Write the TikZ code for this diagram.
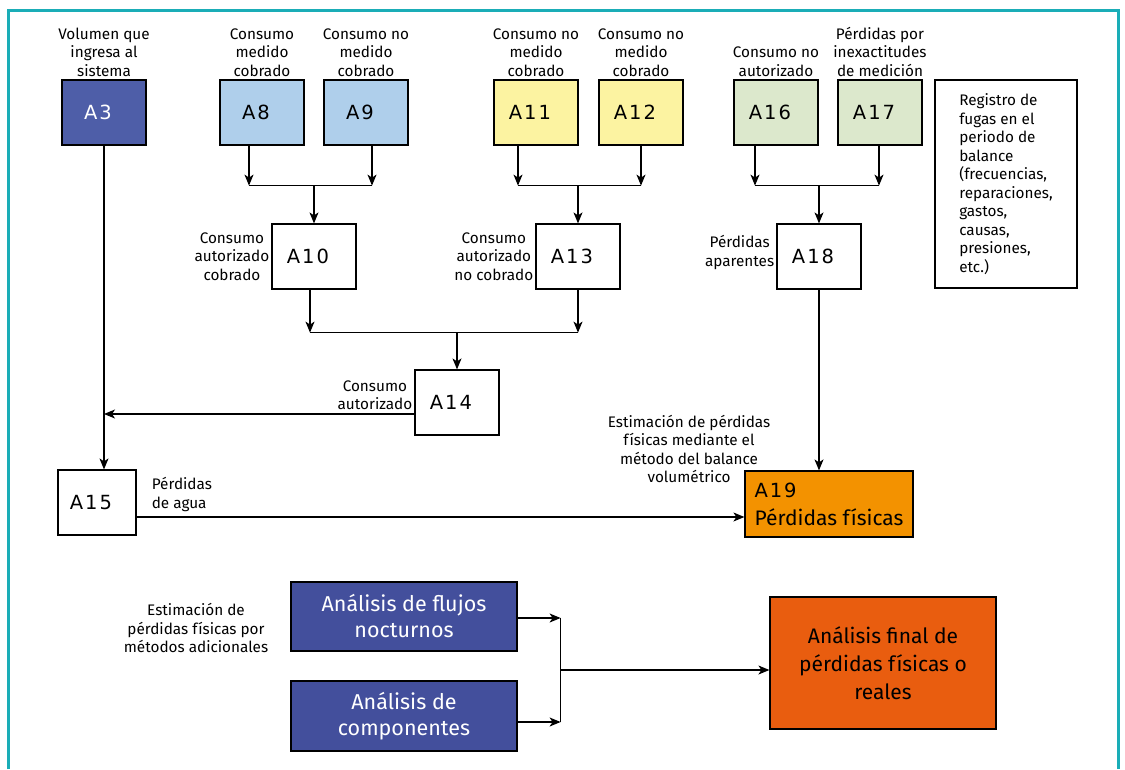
\documentclass[tikz,border=0pt]{standalone}
\usepackage{fontspec}
\setmainfont{Fira Sans}
\newfontfamily\clave[LetterSpace=10]{DejaVu Sans}
\usetikzlibrary{positioning,calc,arrows.meta}
\definecolor{marco}{HTML}{1AADB7}
\definecolor{azulosc}{HTML}{4E5EA8}
\definecolor{azulcla}{HTML}{AFCFEB}
\definecolor{amarillo}{HTML}{FCF3A1}
\definecolor{verde}{HTML}{DCE8CC}
\definecolor{naranja}{HTML}{F39200}
\definecolor{azulmet}{HTML}{434F9C}
\definecolor{naranjaf}{HTML}{E95D0F}

\begin{document}
\begin{tikzpicture}[x=1pt,y=-1pt,
    caja/.style={draw, line width=1.2pt, minimum width=84pt, minimum height=65pt, inner sep=0pt, font=\clave\fontsize{19.5}{24}\selectfont, execute at end node=\hspace*{12pt}},
    etiq/.style={align=center, inner sep=1pt, font=\fontsize{15.3}{18.5}\selectfont},
    metodo/.style={draw, line width=1.2pt, minimum width=226pt, minimum height=69pt, align=center, font=\fontsize{21.5}{26}\selectfont},
    flecha/.style={line width=1.2pt, -{Stealth[length=11pt,width=9pt,inset=3pt]}},
    linea/.style={line width=1.2pt}]
    \useasboundingbox (0,0) rectangle (1125,769);
    \draw[marco, line width=3pt] (8,769) -- (8,10) -- (1118,10) -- (1118,769);

    \node[caja, fill=azulosc, text=white, execute at end node={}] (a3) at (104,112.5) {A3};
    \node[caja, fill=azulcla] (a8) at (262,112.5) {A8};
    \node[caja, fill=azulcla] (a9) at (366,112.5) {A9};
    \node[caja, fill=amarillo] (a11) at (536,112.5) {A11};
    \node[caja, fill=amarillo] (a12) at (641,112.5) {A12};
    \node[caja, fill=verde] (a16) at (776,112.5) {A16};
    \node[caja, fill=verde] (a17) at (880,112.5) {A17};
    \node[caja] (a10) at (314,256.5) {A10};
    \node[caja] (a13) at (578,256.5) {A13};
    \node[caja] (a18) at (819,256.5) {A18};
    \node[caja] (a14) at (457,402.5) {A14};
    \node[caja, minimum width=78pt] (a15) at (97,502.5) {A15};
    \node[draw, line width=1.2pt, fill=naranja, minimum width=168pt, minimum height=66pt, inner sep=0pt, align=left, font=\fontsize{21}{28}\selectfont] (a19) at (829,504) {{\clave\fontsize{19.5}{28}\selectfont A19}\\Pérdidas físicas};
    \node[draw, line width=1.2pt, minimum width=142pt, minimum height=208pt, inner xsep=19pt, align=left, font=\fontsize{15.3}{18.5}\selectfont] (reg) at (1006,184) {Registro de\\fugas en el\\periodo de\\balance\\(frecuencias,\\reparaciones,\\gastos,\\causas,\\presiones,\\etc.)};

    \node[etiq, above=2pt of a3] (t3) {Volumen que\\ingresa al\\sistema};
    \node[etiq, above=2pt of a8] (t8) {Consumo\\medido\\cobrado};
    \node[etiq, above=2pt of a9] (t9) {Consumo no\\medido\\cobrado};
    \node[etiq, above=2pt of a11] (t11) {Consumo no\\medido\\cobrado};
    \node[etiq, above=2pt of a12] (t12) {Consumo no\\medido\\cobrado};
    \node[etiq, above=2pt of a16] (t16) {Consumo no\\autorizado};
    \node[etiq, above=2pt of a17] (t17) {Pérdidas por\\inexactitudes\\de medición};
    \node[etiq, left=1pt of a10] (t10) {Consumo\\autorizado\\cobrado};
    \node[etiq, left=1pt of a13] (t13) {Consumo\\autorizado\\no cobrado};
    \node[etiq, left=1pt of a18, yshift=4pt] (t18) {Pérdidas\\aparentes};

    \coordinate (j8) at ($(a8.south)+(-13,40)$);
    \coordinate (j9) at ($(a9.south)+(6,40)$);
    \coordinate (j11) at ($(a11.south)+(-18,40)$);
    \coordinate (j12) at ($(a12.south)+(0,40)$);
    \coordinate (j16) at ($(a16.south)+(-21,40)$);
    \coordinate (j17) at ($(a17.south)+(-1,40)$);
    \draw[flecha] ([xshift=-13pt]a8.south) -- (j8);
    \draw[flecha] ([xshift=6pt]a9.south) -- (j9);
    \draw[flecha] ([xshift=-18pt]a11.south) -- (j11);
    \draw[flecha] (a12.south) -- (j12);
    \draw[flecha] ([xshift=-21pt]a16.south) -- (j16);
    \draw[flecha] ([xshift=-1pt]a17.south) -- (j17);
    \draw[linea] (j8) -- (j9);
    \draw[linea] (j11) -- (j12);
    \draw[linea] (j16) -- (j17);
    \draw[flecha] (a10.north |- j8) -- (a10.north);
    \draw[flecha] (a13.north |- j11) -- (a13.north);
    \draw[flecha] (a18.north |- j16) -- (a18.north);

    \coordinate (j10) at ($(a10.south)+(-4,43)$);
    \coordinate (j13) at ($(a13.south)+(0,43)$);
    \draw[flecha] ([xshift=-4pt]a10.south) -- (j10);
    \draw[flecha] (a13.south) -- (j13);
    \draw[linea] (j10) -- (j13);
    \draw[flecha] (a14.north |- j10) -- (a14.north);

    \coordinate (s14) at ($(a14.west)+(0,11.5)$);
    \node[etiq, anchor=south east] (t14) at ($(s14)+(-1,-3)$) {Consumo\\autorizado};
    \draw[flecha] (s14) -- (a3.south |- s14);
    \draw[flecha] (a3.south) -- (a3.south |- a15.north);

    \coordinate (s15) at ($(a15.east)+(0,14.5)$);
    \node[etiq, align=left, anchor=north west] (t15) at ($(a15.north east)+(14,7)$) {Pérdidas\\de agua};
    \draw[flecha] (s15) -- (s15 -| a19.west);
    \draw[flecha] (a18.south) -- (a18.south |- a19.north);
    \node[etiq] (t19) at (689,449) {Estimación de pérdidas\\físicas mediante el\\método del balance\\volumétrico};

    \node[metodo, fill=azulmet, text=white] (fn) at (404,616.5) {Análisis de flujos\\nocturnos};
    \node[metodo, fill=azulmet, text=white, minimum height=70pt] (co) at (404,716) {Análisis de\\componentes};
    \node[metodo, fill=naranjaf, minimum height=132pt, font=\fontsize{21}{28}\selectfont] (fin) at (883,663) {Análisis final de\\pérdidas físicas o\\reales};
    \node[etiq] (tad) at (196,628) {Estimación de\\pérdidas físicas por\\métodos adicionales};

    \coordinate (k1) at ($(fn.east)+(43,1.5)$);
    \coordinate (k2) at ($(co.east)+(43,6)$);
    \coordinate (k3) at ($(k1)!0.5!(k2)$);
    \draw[flecha] (fn.east |- k1) -- (k1);
    \draw[flecha] (co.east |- k2) -- (k2);
    \draw[linea] (k1) -- (k2);
    \draw[flecha] (k3) -- (k3 -| fin.west);
\end{tikzpicture}
\end{document}
